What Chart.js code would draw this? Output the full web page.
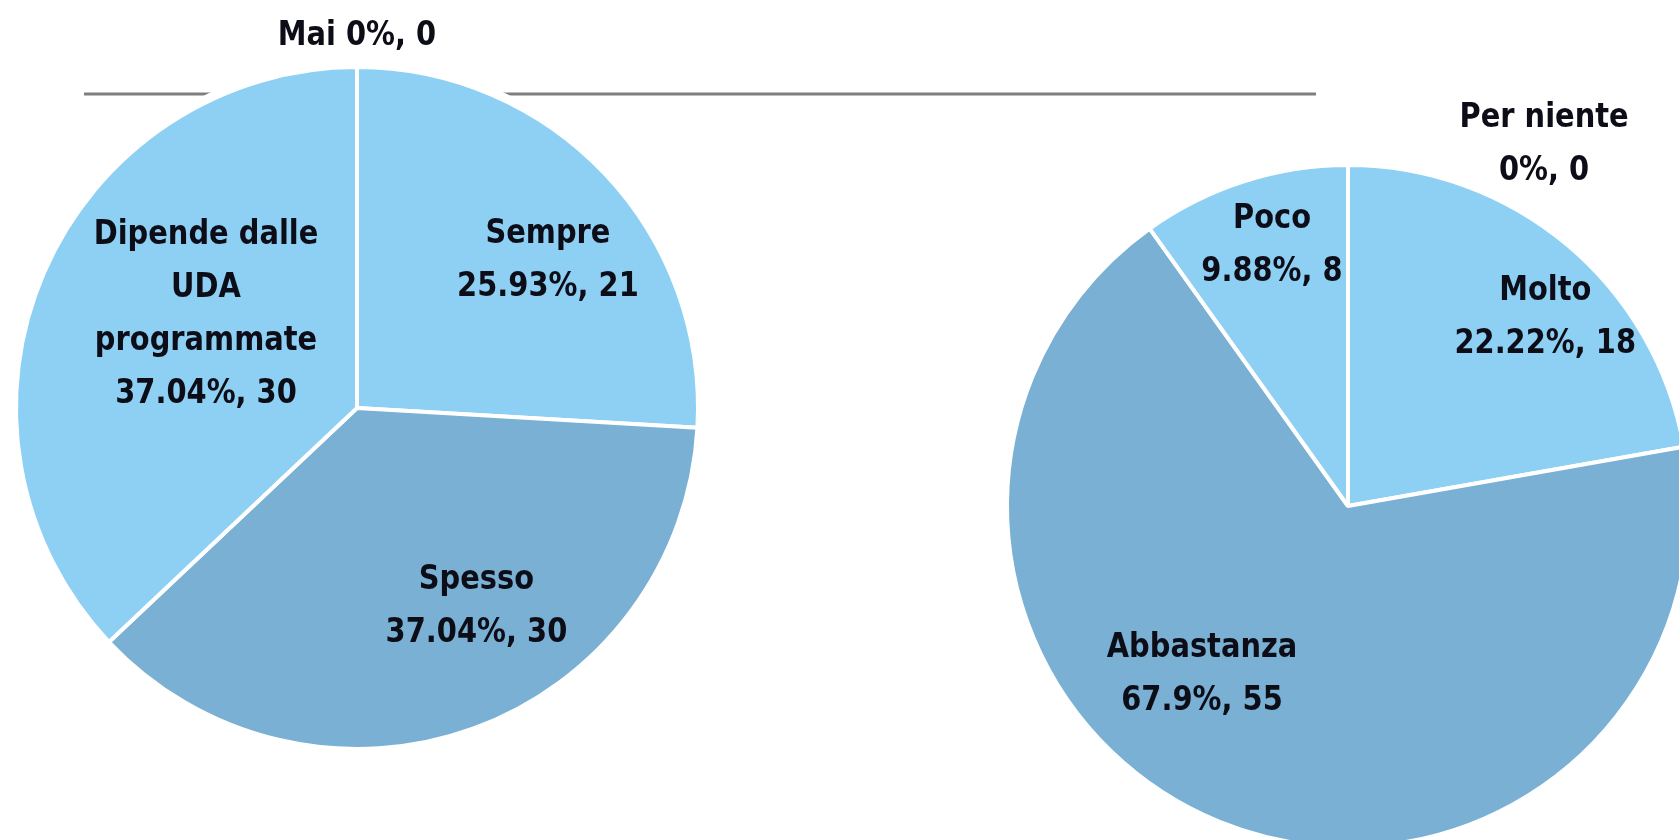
<!DOCTYPE html>
<html><head><meta charset="utf-8">
<script src="https://cdn.jsdelivr.net/npm/chart.js@4.4.1/dist/chart.umd.min.js"></script>
<style>
html,body{margin:0;padding:0;background:#fff;overflow:hidden;width:1679px;height:840px;}
.wrap{position:absolute;left:0;top:0;width:1700px;height:860px;}
canvas{display:block}
</style></head><body>
<div class="wrap"><canvas id="c1" width="1700" height="860"></canvas></div>
<div class="wrap"><canvas id="c2" width="1700" height="860"></canvas></div>
<script>
// ---- data ----
const leftCategories = [['Sempre'], ['Spesso'], ['Dipende dalle', 'UDA', 'programmate'], ['Mai']];
const leftValues = [21, 30, 30, 0];
const rightCategories = [['Molto'], ['Abbastanza'], ['Poco'], ['Per niente']];
const rightValues = [18, 55, 8, 0];

// ---- style ----
const LIGHT = '#8ED0F4';
const DARK = '#79B0D3';
const leftColors = [LIGHT, DARK, LIGHT, LIGHT];
const rightColors = [LIGHT, DARK, LIGHT, LIGHT];
// label placement: fraction of radius and angular tweak (deg) from slice mid-angle
const leftPlacement = [{f:0.707, da:5.7}, {f:0.68, da:-11}, {f:0.52, da:8.3}, {f:1.09, da:0, inline:true}];
const rightPlacement = [{f:0.80, da:6.3}, {f:0.655, da:18.6}, {f:0.795, da:1.5}, {f:1.205, da:28.5}];

const labelPlugin = {
  id: 'sliceLabels',
  afterDatasetsDraw(chart, args, opts) {
    const ctx = chart.ctx;
    const meta = chart.getDatasetMeta(0);
    const values = chart.data.datasets[0].data;
    const total = values.reduce((a, b) => a + b, 0);
    meta.data.forEach((arc, i) => {
      const {x, y, startAngle, endAngle, outerRadius} = arc.getProps(['x', 'y', 'startAngle', 'endAngle', 'outerRadius'], true);
      const p = opts.placement[i];
      const mid = (startAngle + endAngle) / 2 + p.da * Math.PI / 180;
      const cx = x + Math.cos(mid) * outerRadius * p.f;
      const cy = y + Math.sin(mid) * outerRadius * p.f;
      const pct = Number((values[i] / total * 100).toFixed(2));
      const valText = pct + '%, ' + values[i];
      const names = chart.data.labels[i];
      const lines = p.inline ? [names.join(' ') + ' ' + valText] : [...names, valText];
      const lh = opts.lineHeight;
      ctx.save();
      ctx.font = opts.font;
      ctx.fillStyle = opts.color;
      ctx.textAlign = 'center';
      ctx.textBaseline = 'middle';
      ctx.translate(cx, cy);
      ctx.scale(opts.squeeze, 1);
      lines.forEach((ln, k) => ctx.fillText(ln, 0, (k - (lines.length - 1) / 2) * lh));
      ctx.restore();
    });
  }
};

const decoPlugin = {
  id: 'deco',
  beforeDatasetsDraw(chart, args, opts) {
    if (!opts.enabled) return;
    const ctx = chart.ctx;
    const arc = chart.getDatasetMeta(0).data[0];
    const {x, y, outerRadius} = arc.getProps(['x', 'y', 'outerRadius'], true);
    ctx.save();
    ctx.strokeStyle = '#7f7f7f';
    ctx.lineWidth = 3;
    ctx.beginPath();
    ctx.moveTo(84, 94);
    ctx.lineTo(1316, 94);
    ctx.stroke();
    ctx.fillStyle = '#ffffff';
    ctx.beginPath();
    ctx.arc(x, y, outerRadius + 7, 0, Math.PI * 2);
    ctx.fill();
    ctx.restore();
  }
};

function makePie(id, labels, values, colors, placement, padding, radius, deco) {
  return new Chart(document.getElementById(id), {
    type: 'pie',
    data: {
      labels: labels,
      datasets: [{
        data: values,
        backgroundColor: colors,
        borderColor: '#ffffff',
        borderWidth: 4
      }]
    },
    options: {
      responsive: false,
      animation: false,
      radius: radius,
      layout: {padding: padding},
      plugins: {
        legend: {display: false},
        tooltip: {enabled: false},
        deco: {enabled: deco},
        sliceLabels: {
          placement: placement,
          font: 'bold 34px "DejaVu Sans"',
          squeeze: 0.85,
          color: '#0d0d18',
          lineHeight: 53
        }
      }
    },
    plugins: [decoPlugin, labelPlugin]
  });
}

makePie('c1', leftCategories, leftValues, leftColors, leftPlacement,
  {left: 12, top: 63, right: 998, bottom: 107}, 341, true);
makePie('c2', rightCategories, rightValues, rightColors, rightPlacement,
  {left: 1003, top: 161, right: 7, bottom: 9}, 341, false);
</script>
</body></html>
